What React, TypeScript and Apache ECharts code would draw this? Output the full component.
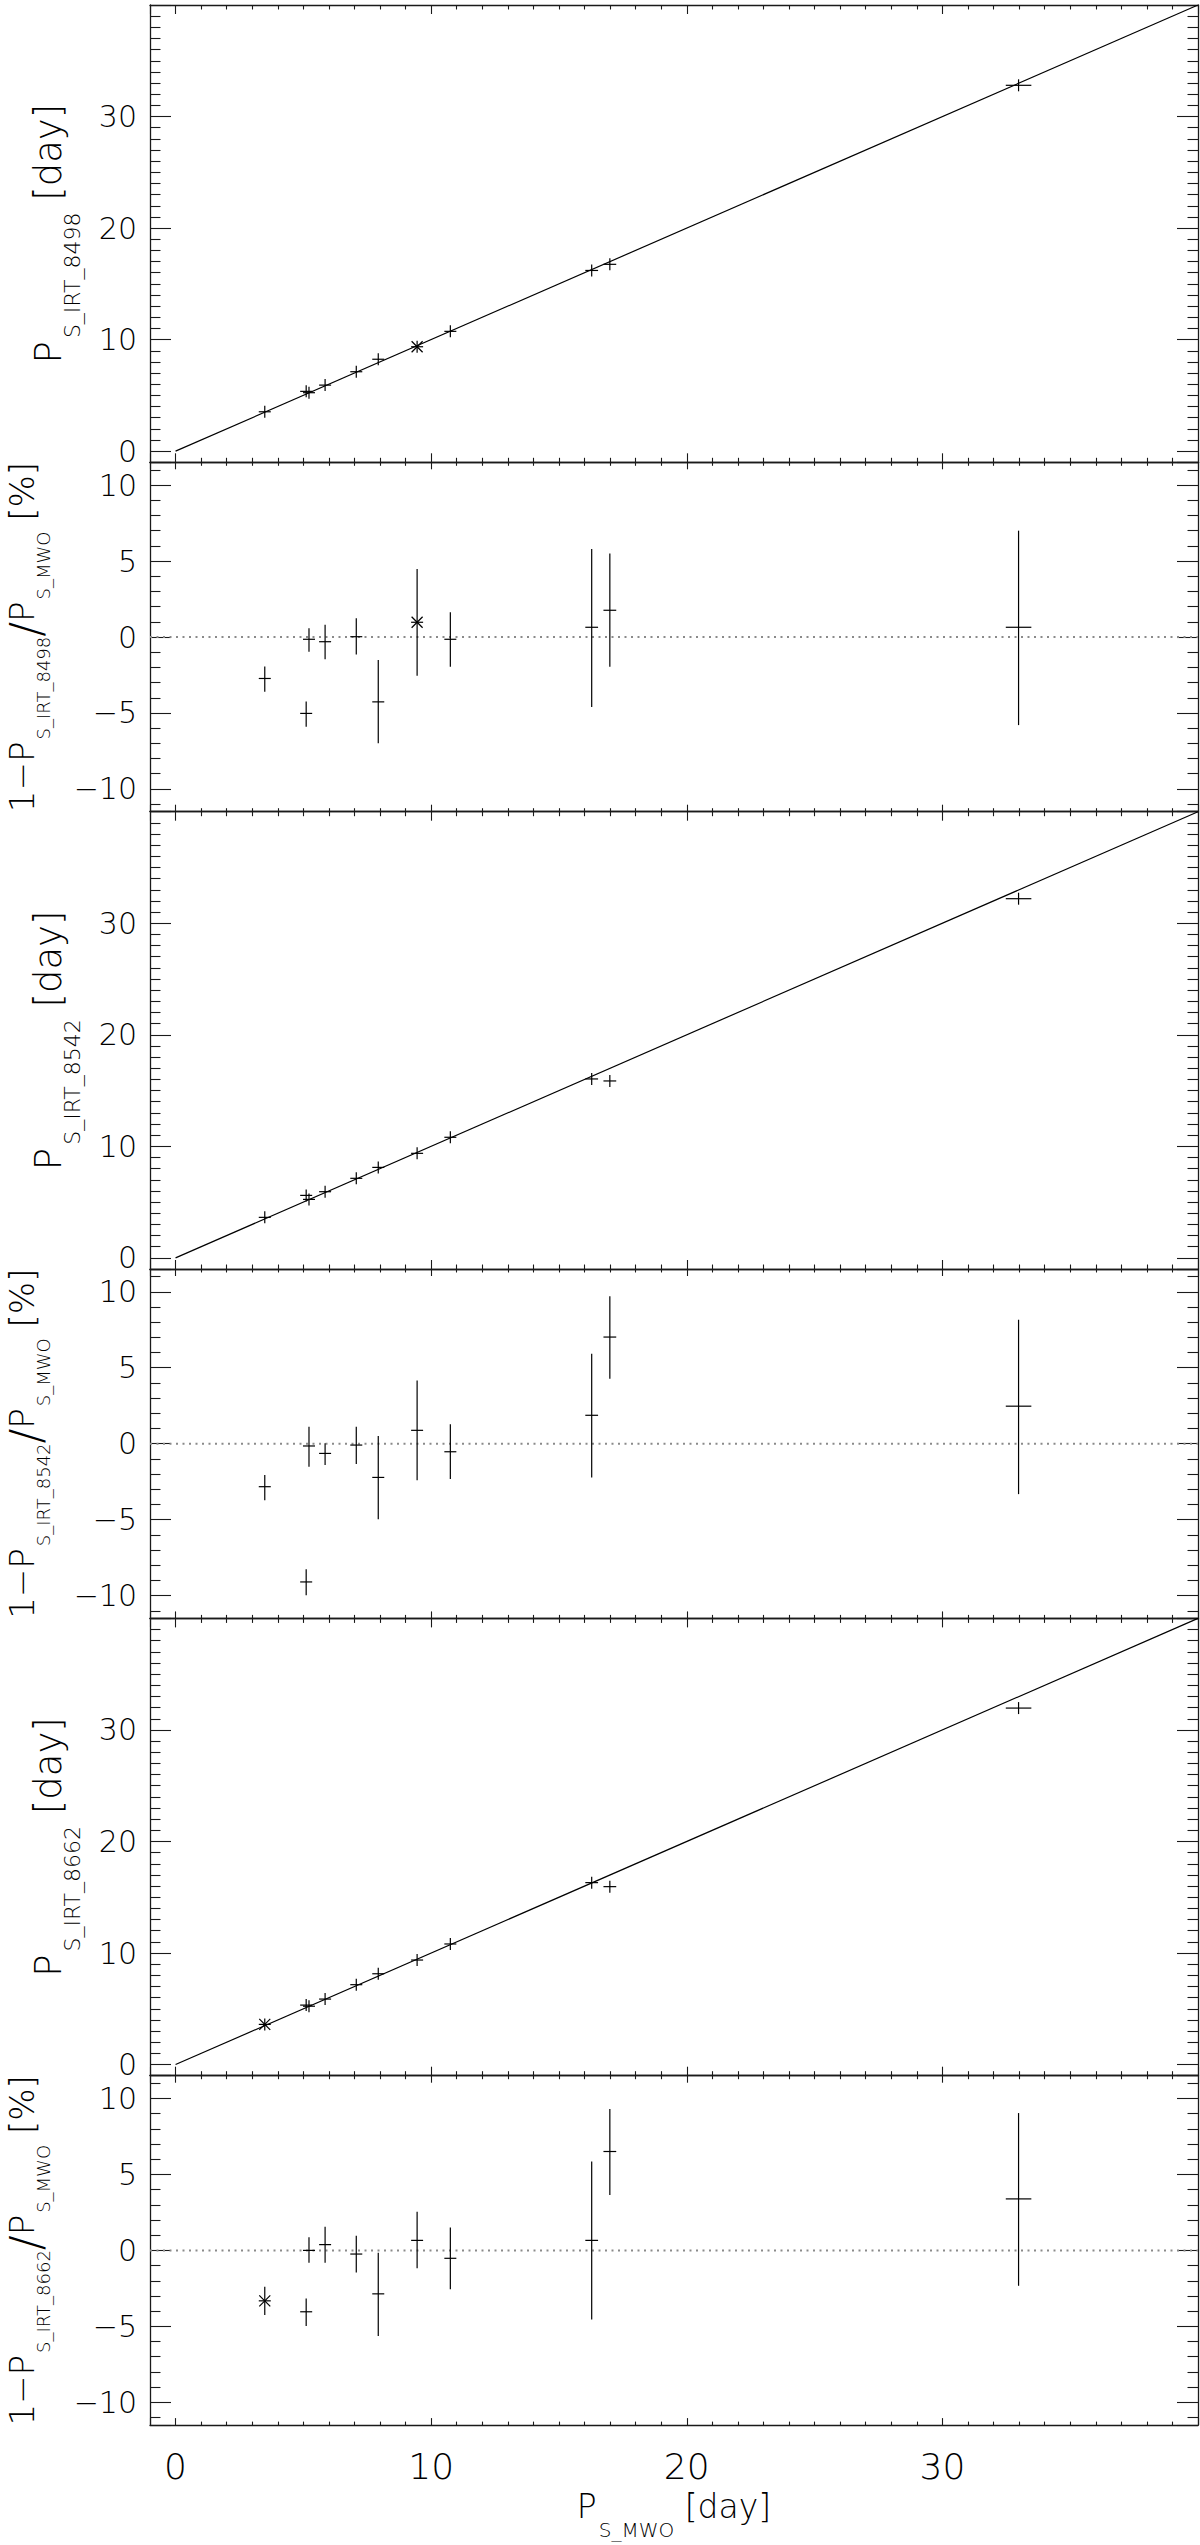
import React, { useEffect, useRef } from "react";
import * as echarts from "echarts";

// ---------------- data ----------------
const pMWO = [3.49, 5.11, 5.22, 5.85, 7.07, 7.93, 9.45, 10.75, 16.28, 16.99, 32.98];
const pMWOErr = [0.05, 0.05, 0.05, 0.1, 0.1, 0.1, 0.15, 0.15, 0.25, 0.25, 0.5];

const p8498 = [3.53, 5.36, 5.24, 5.92, 7.12, 8.24, 9.36, 10.74, 16.2, 16.75, 32.8];
const res8498 = [-2.73, -5.03, -0.15, -0.31, 0.02, -4.27, 0.97, -0.15, 0.64, 1.76, 0.64];
const res8498Lo = [-3.6, -5.9, -0.97, -1.47, -1.16, -7.0, -2.55, -1.96, -4.6, -1.96, -5.8];
const res8498Hi = [-1.95, -4.25, 0.58, 0.8, 1.23, -1.52, 4.47, 1.63, 5.8, 5.5, 7.0];

const p8542 = [3.63, 5.6, 5.24, 5.93, 7.13, 8.11, 9.37, 10.81, 16.04, 15.86, 32.2];
const res8542 = [-2.83, -9.1, -0.15, -0.64, -0.09, -2.22, 0.88, -0.53, 1.87, 7.02, 2.47];
const res8542Lo = [-3.72, -9.98, -1.52, -1.4, -1.34, -4.97, -2.4, -2.33, -2.22, 4.27, -3.32];
const res8542Hi = [-2.06, -8.27, 1.12, 0.03, 1.12, 0.5, 4.16, 1.28, 5.92, 9.7, 8.16];

const p8662 = [3.6, 5.33, 5.23, 5.87, 7.16, 8.14, 9.37, 10.81, 16.31, 15.95, 31.96];
const res8662 = [-3.32, -4.04, 0.0, 0.38, -0.24, -2.86, 0.66, -0.52, 0.66, 6.51, 3.39];
const res8662Lo = [-4.26, -4.97, -0.81, -0.81, -1.45, -5.63, -1.18, -2.55, -4.55, 3.65, -2.33];
const res8662Hi = [-2.39, -3.16, 0.86, 1.56, 0.97, -0.15, 2.55, 1.5, 5.85, 9.31, 9.04];

const lineNames = ["S_IRT_8498", "S_IRT_8542", "S_IRT_8662"];
const asteriskIndex = [6, -1, 0];

const fitX = [0, 40];
const fitY = [0, 40];
const zeroX = [-1, 40];
const zeroY = [0, 0];

const xRange = [-1, 40];
const upRange = [-1, 40];
const resRange = [-11.5, 11.5];
const xTickLabels = [0, 10, 20, 30];
const upTickLabels = [0, 10, 20, 30];
const resTickLabels = [-10, -5, 0, 5, 10];

// ---------------- layout / style ----------------
const FAM = '"DejaVu Sans", "Liberation Sans", sans-serif';
const FW = 200;
const AX = "#1a1a1a";
const LEFT = 150;
const PLOT_W = 1048;
const TOP0 = 5;
const H_UP = 457.3;
const H_LO = 349.4;
const PITCH = H_UP + H_LO;
const Y_LABEL_SIZE = 30;

let _ctx: CanvasRenderingContext2D | null = null;
function textWidth(t: string, size: number) {
  if (!_ctx) _ctx = document.createElement("canvas").getContext("2d");
  _ctx!.font = `${FW} ${size}px ${FAM}`;
  return _ctx!.measureText(t).width;
}

type Piece = { t: string; s: number; dy: number; pad?: number };
function titleEl(x: number, y: number, rotation: number, pieces: Piece[]) {
  const widths = pieces.map((p) => textWidth(p.t, p.s) + (p.pad || 0));
  const total = widths.reduce((a, b) => a + b, 0);
  let cur = -total / 2;
  const children = pieces.map((p, i) => {
    const el = {
      type: "text",
      x: cur + (p.pad || 0),
      y: p.dy,
      style: {
        text: p.t,
        font: `${FW} ${p.s}px ${FAM}`,
        fontSize: p.s,
        fontFamily: FAM,
        fontWeight: FW,
        fill: "#000",
        textAlign: "left",
        textVerticalAlign: "middle",
        align: "left",
        verticalAlign: "middle",
      },
    };
    cur += widths[i];
    return el;
  });
  return { type: "group", x, y, rotation, children, silent: true };
}

function fmt(allowed: number[]) {
  return (v: number) => {
    const hit = allowed.find((a) => Math.abs(a - v) < 1e-6);
    if (hit === undefined) return "";
    return hit < 0 ? "\u2212" + Math.abs(hit) : String(hit);
  };
}

function valueAxis(
  gi: number,
  position: string,
  range: number[],
  step: number,
  minorSplit: number,
  major: number,
  minor: number,
  labels: number[] | null,
  labelSize: number,
  labelMargin: number
) {
  return {
    type: "value",
    gridIndex: gi,
    position,
    min: range[0],
    max: range[1],
    minInterval: step,
    maxInterval: step,
    splitNumber: Math.round((range[1] - range[0]) / step),
    axisLine: { show: true, onZero: false, lineStyle: { color: AX, width: 1.3 } },
    axisTick: { show: true, inside: true, length: major, lineStyle: { color: AX, width: 1.1 } },
    minorTick: { show: true, splitNumber: minorSplit, length: minor, lineStyle: { color: AX, width: 1.1 } },
    splitLine: { show: false },
    minorSplitLine: { show: false },
    axisPointer: { show: false },
    silent: true,
    axisLabel: labels
      ? {
          show: true,
          formatter: fmt(labels),
          color: "#000",
          fontFamily: FAM,
          fontWeight: FW,
          fontSize: labelSize,
          margin: labelMargin,
        }
      : { show: false },
  };
}

function renderErr(params: any, api: any) {
  const x = api.value(0);
  const y = api.value(1);
  const xe = api.value(2);
  const lo = api.value(3);
  const hi = api.value(4);
  const star = api.value(5);
  const c = api.coord([x, y]);
  const l = api.coord([x - xe, y]);
  const r = api.coord([x + xe, y]);
  const b = api.coord([x, lo]);
  const t = api.coord([x, hi]);
  const S = 6;
  const st = { stroke: "#000", lineWidth: 1.2, fill: null };
  const children: any[] = [
    {
      type: "line",
      shape: { x1: Math.min(l[0], c[0] - S), y1: c[1], x2: Math.max(r[0], c[0] + S), y2: c[1] },
      style: st,
    },
    {
      type: "line",
      shape: { x1: c[0], y1: Math.max(b[1], c[1] + S), x2: c[0], y2: Math.min(t[1], c[1] - S) },
      style: st,
    },
  ];
  if (star) {
    const d = 5.5;
    children.push({ type: "line", shape: { x1: c[0] - d, y1: c[1] - d, x2: c[0] + d, y2: c[1] + d }, style: st });
    children.push({ type: "line", shape: { x1: c[0] - d, y1: c[1] + d, x2: c[0] + d, y2: c[1] - d }, style: st });
  }
  return { type: "group", children };
}

function buildOption() {
  const ups = [p8498, p8542, p8662];
  const ress = [res8498, res8542, res8662];
  const los = [res8498Lo, res8542Lo, res8662Lo];
  const his = [res8498Hi, res8542Hi, res8662Hi];

  const grid: any[] = [];
  const xAxis: any[] = [];
  const yAxis: any[] = [];
  const series: any[] = [];
  const graphic: any[] = [];

  for (let k = 0; k < 3; k++) {
    const tU = TOP0 + k * PITCH;
    const tL = tU + H_UP;
    const gU = 2 * k;
    const gL = 2 * k + 1;
    grid.push({ left: LEFT, top: tU, width: PLOT_W, height: H_UP, containLabel: false, outerBoundsMode: "none" });
    grid.push({ left: LEFT, top: tL, width: PLOT_W, height: H_LO, containLabel: false, outerBoundsMode: "none" });

    // upper panel axes
    xAxis.push(valueAxis(gU, "bottom", xRange, 10, 10, 9, 4.5, null, 0, 0));
    xAxis.push(valueAxis(gU, "top", xRange, 10, 10, 9, 4.5, null, 0, 0));
    yAxis.push(valueAxis(gU, "left", upRange, 10, 10, 21, 10.5, upTickLabels, Y_LABEL_SIZE, 13));
    yAxis.push(valueAxis(gU, "right", upRange, 10, 10, 21, 10.5, null, 0, 0));
    // lower panel axes
    const isLast = k === 2;
    xAxis.push(valueAxis(gL, "bottom", xRange, 10, 10, 7, 3.5, isLast ? xTickLabels : null, 36, 23));
    xAxis.push(valueAxis(gL, "top", xRange, 10, 10, 7, 3.5, null, 0, 0));
    yAxis.push(valueAxis(gL, "left", resRange, 5, 5, 21, 10.5, resTickLabels, Y_LABEL_SIZE, 13));
    yAxis.push(valueAxis(gL, "right", resRange, 5, 5, 21, 10.5, null, 0, 0));

    const axU = 2 * gU;
    const axL = 2 * gL;

    series.push({
      type: "line",
      xAxisIndex: axU,
      yAxisIndex: axU,
      data: fitX.map((x, i) => [x, fitY[i]]),
      symbol: "none",
      lineStyle: { color: "#000", width: 1.2 },
      silent: true,
      clip: true,
      z: 3,
    });
    series.push({
      type: "custom",
      xAxisIndex: axU,
      yAxisIndex: axU,
      renderItem: renderErr,
      encode: { x: 0, y: 1 },
      data: pMWO.map((x, i) => [x, ups[k][i], pMWOErr[i], ups[k][i], ups[k][i], i === asteriskIndex[k] ? 1 : 0]),
      silent: true,
      clip: false,
      z: 4,
    });
    series.push({
      type: "line",
      xAxisIndex: axL,
      yAxisIndex: axL,
      data: zeroX.map((x, i) => [x, zeroY[i]]),
      symbol: "none",
      lineStyle: { color: "#8a8a8a", width: 2, type: [2, 4.5] },
      silent: true,
      z: 2,
    });
    series.push({
      type: "custom",
      xAxisIndex: axL,
      yAxisIndex: axL,
      renderItem: renderErr,
      encode: { x: 0, y: 1 },
      data: pMWO.map((x, i) => [x, ress[k][i], pMWOErr[i], los[k][i], his[k][i], i === asteriskIndex[k] ? 1 : 0]),
      silent: true,
      clip: false,
      z: 4,
    });

    // axis titles
    graphic.push(
      titleEl(48, tU + H_UP / 2, Math.PI / 2, [
        { t: "P", s: 37, dy: 0 },
        { t: lineNames[k], s: 22, dy: 24, pad: 3 },
        { t: " [day]", s: 37, dy: 0 },
      ])
    );
    graphic.push(
      titleEl(22, tL + H_LO / 2, Math.PI / 2, [
        { t: "1\u2212P", s: 34, dy: 0 },
        { t: lineNames[k], s: 18, dy: 21, pad: 2 },
        { t: "/", s: 44, dy: 4 },
        { t: "P", s: 34, dy: 0 },
        { t: "S_MWO", s: 18, dy: 21, pad: 2 },
        { t: " [%]", s: 34, dy: 0 },
      ])
    );
  }

  graphic.push(
    titleEl(LEFT + PLOT_W / 2, 2506, 0, [
      { t: "P", s: 33, dy: 0 },
      { t: "S_MWO", s: 20, dy: 24, pad: 2 },
      { t: " [day]", s: 33, dy: 0 },
    ])
  );

  return {
    animation: false,
    backgroundColor: "#fff",
    grid,
    xAxis,
    yAxis,
    series,
    graphic: { elements: graphic },
  };
}

export default function App() {
  const ref = useRef<HTMLDivElement>(null);
  useEffect(() => {
    const chart = echarts.init(ref.current!, null, { renderer: "svg", width: 1200, height: 2545 });
    chart.setOption(buildOption() as any);
    return () => chart.dispose();
  }, []);
  return (
    <div
      ref={ref}
      style={{ position: "absolute", left: 0, top: 0, width: 1200, height: 2545, background: "#fff" }}
    />
  );
}
